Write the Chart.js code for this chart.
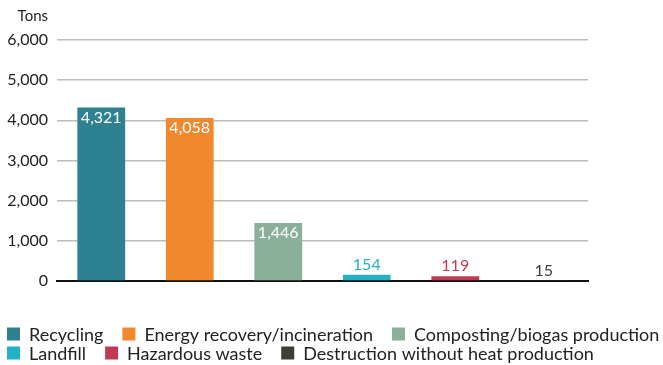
<!DOCTYPE html>
<html>
<head>
<meta charset="utf-8">
<script src="https://cdn.jsdelivr.net/npm/chart.js@4"></script>
<style>
  html, body { margin: 0; padding: 0; background: #fff; }
  #wrap { width: 663px; height: 365px; position: relative; }
</style>
</head>
<body>
<div id="wrap"><canvas id="c"></canvas></div>
<script>
// Waste treatment, tons per method
const categories = [
  'Recycling',
  'Energy recovery/incineration',
  'Composting/biogas production',
  'Landfill',
  'Hazardous waste',
  'Destruction without heat production'
];
const tons = [4321, 4058, 1446, 154, 119, 15];
const colors = ['#2e8191', '#f0892e', '#8bb09a', '#22b1c5', '#c03a55', '#403d35'];
const yTicks = [0, 1000, 2000, 3000, 4000, 5000, 6000];

const FONT = 'Lato, "Open Sans", sans-serif';
const fmt = v => v.toLocaleString('en-US');

// Value labels: inside the bar top for tall bars, above it for short ones
const valueLabels = {
  id: 'valueLabels',
  afterDatasetsDraw(chart) {
    const ctx = chart.ctx;
    const meta = chart.getDatasetMeta(0);
    ctx.save();
    ctx.font = '16px ' + FONT;
    ctx.textAlign = 'center';
    meta.data.forEach((bar, i) => {
      const v = tons[i];
      if (v >= 1000) {
        ctx.fillStyle = '#ffffff';
        ctx.textBaseline = 'top';
        ctx.fillText(fmt(v), bar.x, bar.y + 2);
      } else {
        ctx.fillStyle = colors[i];
        ctx.textBaseline = 'bottom';
        ctx.fillText(fmt(v), bar.x, bar.y - 2);
      }
    });
    ctx.restore();
  }
};

// Unit caption above the value axis
const unitCaption = {
  id: 'unitCaption',
  afterDraw(chart) {
    const y = chart.scales.y;
    const ctx = chart.ctx;
    ctx.save();
    ctx.font = '15px ' + FONT;
    ctx.fillStyle = '#222';
    ctx.textAlign = 'right';
    ctx.textBaseline = 'middle';
    ctx.fillText('Tons', y.right - 9, 16);
    ctx.restore();
  }
};

// Category key under the plot, wrapping into left-aligned rows
const categoryKey = {
  id: 'categoryKey',
  afterDraw(chart) {
    const ctx = chart.ctx;
    const size = 18, box = 13, gapText = 9, gapItem = 19, rowH = 19;
    const left = 7, maxRight = chart.width - 2;
    let x = left, y = 334;
    ctx.save();
    ctx.font = size + 'px ' + FONT;
    ctx.textBaseline = 'middle';
    ctx.textAlign = 'left';
    categories.forEach((c, i) => {
      const w = box + gapText + ctx.measureText(c).width;
      if (x > left && x + w > maxRight) { x = left; y += rowH; }
      ctx.fillStyle = colors[i];
      ctx.fillRect(x, y - box / 2, box, box);
      ctx.fillStyle = '#222';
      ctx.fillText(c, x + box + gapText, y + 1);
      x += w + gapItem;
    });
    ctx.restore();
  }
};

new Chart(document.getElementById('c'), {
  type: 'bar',
  data: {
    labels: categories,
    datasets: [{
      data: tons,
      backgroundColor: colors,
      borderWidth: 0,
      categoryPercentage: 1,
      barPercentage: 0.54
    }]
  },
  options: {
    responsive: true,
    maintainAspectRatio: false,
    animation: false,
    layout: { padding: { top: 40, right: 75, left: 0, bottom: 82 } },
    plugins: {
      tooltip: { enabled: false },
      legend: { display: false }
    },
    scales: {
      x: {
        grid: { display: false, drawTicks: false },
        ticks: { display: false },
        border: { display: true, color: '#111', width: 2 },
        afterFit: s => { s.height = 2; }
      },
      y: {
        min: 0,
        max: 6000,
        afterBuildTicks: s => { s.ticks = yTicks.map(v => ({ value: v })); },
        ticks: {
          font: { family: FONT, size: 16 },
          color: '#222',
          padding: 9,
          callback: v => fmt(v)
        },
        grid: { color: '#bcbcbc', lineWidth: 1.5, drawTicks: false },
        border: { display: false },
        afterFit: s => { s.width = 57; }
      }
    }
  },
  plugins: [valueLabels, unitCaption, categoryKey]
});
</script>
</body>
</html>
